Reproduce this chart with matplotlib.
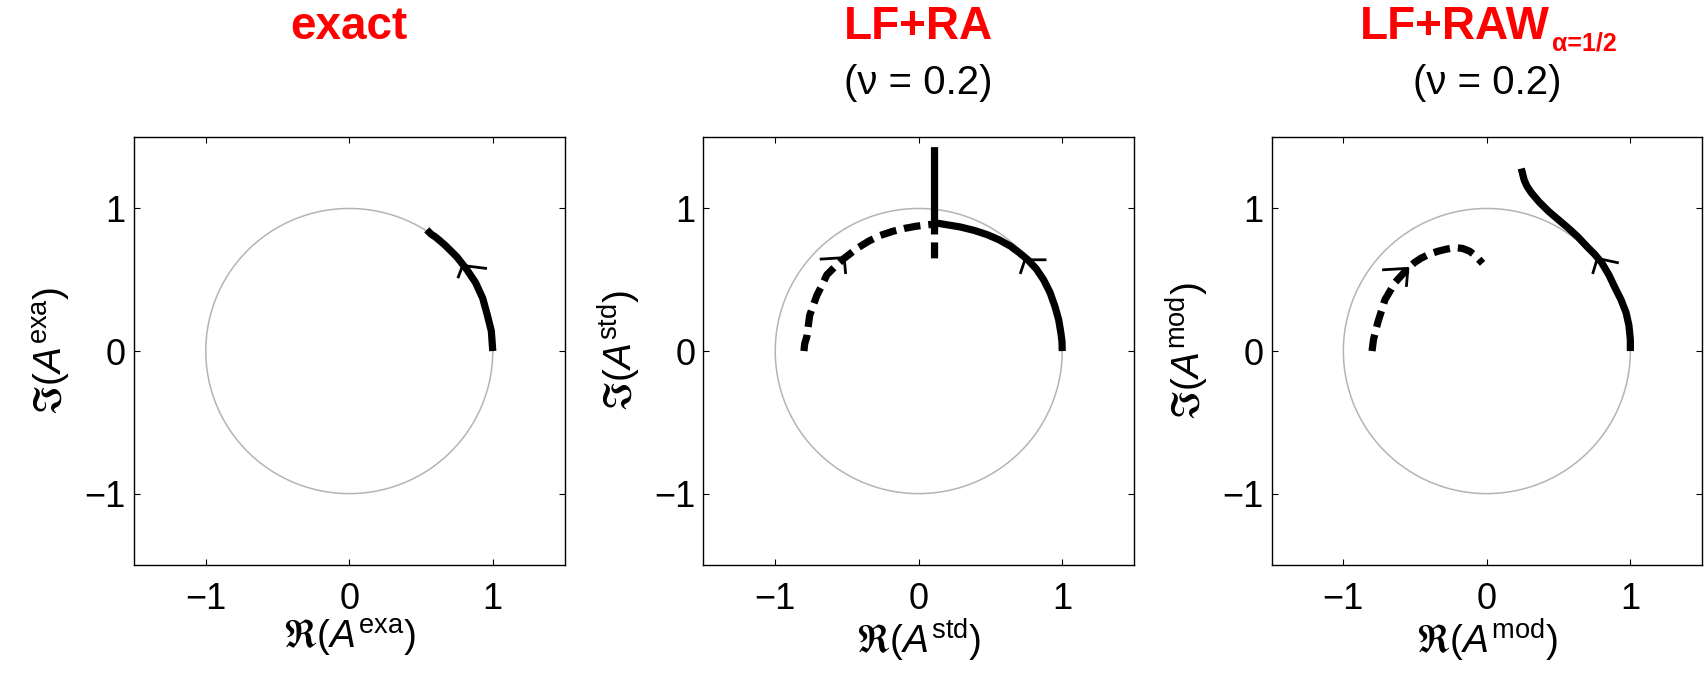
import numpy as np
import matplotlib
matplotlib.use("Agg")
import matplotlib.pyplot as plt

plt.rcParams['font.family'] = ['Liberation Sans', 'DejaVu Sans']
plt.rcParams['mathtext.fontset'] = 'custom'
plt.rcParams['mathtext.rm'] = 'Liberation Sans'
plt.rcParams['mathtext.it'] = 'Liberation Sans:italic'
plt.rcParams['mathtext.bf'] = 'Liberation Sans:bold'
plt.rcParams['mathtext.fallback'] = 'stix'

# exact solution (solid)
exa_re = [1.00, 0.995, 0.99, 0.975, 0.96, 0.93, 0.905, 0.88, 0.85, 0.82, 0.785, 0.75, 0.71, 0.67, 0.63, 0.60, 0.57, 0.54]
exa_im = [0.00, 0.07, 0.14, 0.20, 0.26, 0.37, 0.425, 0.48, 0.525, 0.57, 0.615, 0.66, 0.70, 0.74, 0.775, 0.80, 0.82, 0.85]
exa_arrow = [(0.95, 0.58), (0.79, 0.60), (0.76, 0.52)]

# LF+RA, physical mode (solid) and computational mode (dashed)
std_re = [1.00, 0.998, 0.99, 0.975, 0.95, 0.915, 0.87, 0.82, 0.76, 0.70, 0.64, 0.56, 0.48, 0.39, 0.29, 0.20, 0.11, 0.11]
std_im = [0.00, 0.07, 0.13, 0.22, 0.31, 0.41, 0.50, 0.575, 0.64, 0.69, 0.735, 0.78, 0.815, 0.845, 0.87, 0.885, 0.90, 1.43]
std_arrow = [(0.88, 0.64), (0.74, 0.64), (0.71, 0.55)]
stdc_re = [-0.80, -0.795, -0.78, -0.76, -0.735, -0.71, -0.675, -0.64, -0.58, -0.52, -0.43, -0.35, -0.27, -0.18, -0.10, -0.02, 0.06, 0.11, 0.11]
stdc_im = [0.00, 0.05, 0.10, 0.25, 0.32, 0.39, 0.46, 0.535, 0.595, 0.65, 0.72, 0.77, 0.81, 0.84, 0.86, 0.875, 0.885, 0.89, 0.65]
stdc_arrow = [(-0.68, 0.645), (-0.52, 0.655), (-0.51, 0.55)]

# LF+RAW alpha=1/2
mod_re = [1.00, 1.00, 0.99, 0.97, 0.935, 0.89, 0.85, 0.80, 0.75, 0.70, 0.635, 0.57, 0.50, 0.43, 0.365, 0.31, 0.28, 0.26, 0.24]
mod_im = [0.00, 0.08, 0.18, 0.27, 0.36, 0.45, 0.535, 0.62, 0.68, 0.73, 0.80, 0.86, 0.92, 0.98, 1.045, 1.11, 1.155, 1.20, 1.28]
mod_arrow = [(0.91, 0.62), (0.77, 0.65), (0.74, 0.55)]
modc_re = [-0.80, -0.795, -0.79, -0.76, -0.735, -0.71, -0.675, -0.64, -0.595, -0.55, -0.505, -0.46, -0.40, -0.34, -0.28, -0.22, -0.17, -0.12, -0.075, -0.03]
modc_im = [0.00, 0.04, 0.08, 0.20, 0.28, 0.36, 0.42, 0.48, 0.53, 0.58, 0.62, 0.65, 0.68, 0.70, 0.715, 0.725, 0.72, 0.70, 0.665, 0.615]
modc_arrow = [(-0.72, 0.57), (-0.55, 0.58), (-0.56, 0.46)]

ticks = [-1, 0, 1]
tags = ['exa', 'std', 'mod']

fig = plt.figure(figsize=(17.05, 6.79), dpi=100)
lefts = [0.0786, 0.4126, 0.7458]
axes = [fig.add_axes([l, 0.168, 0.2525, 0.630]) for l in lefts]

theta = np.linspace(0, 2 * np.pi, 400)
curves = [
    [(exa_re, exa_im, exa_arrow, '-')],
    [(std_re, std_im, std_arrow, '-'), (stdc_re, stdc_im, stdc_arrow, '--')],
    [(mod_re, mod_im, mod_arrow, '-'), (modc_re, modc_im, modc_arrow, '--')],
]

for ax, tag, crv in zip(axes, tags, curves):
    ax.plot(np.cos(theta), np.sin(theta), color='#b4b4b4', lw=1.1)
    for re, im, arr, ls in crv:
        if ls == '-':
            ax.plot(re, im, color='k', lw=5.2, solid_capstyle='butt', solid_joinstyle='round')
        else:
            ax.plot(re, im, color='k', lw=5.2, dashes=(2.3, 1.1), dash_capstyle='butt',
                    dash_joinstyle='round')
        ax.plot([p[0] for p in arr], [p[1] for p in arr], color='k', lw=2.0)
    ax.set_xlim(-1.5, 1.5)
    ax.set_ylim(-1.5, 1.5)
    ax.set_xticks(ticks)
    ax.set_yticks(ticks)
    ax.set_xticklabels(['\u22121', '0', '1'])
    ax.set_yticklabels(['\u22121', '0', '1'])
    ax.tick_params(direction='in', length=4, width=0.8, top=True, right=True, labelsize=26)
    ax.tick_params(axis='x', pad=12)
    ax.tick_params(axis='y', pad=6)
    for s in ax.spines.values():
        s.set_linewidth(1.0)
    ax.set_xlabel(r'$\Re(A^{\mathrm{%s}})$' % tag, fontsize=28, labelpad=0)
    ax.set_ylabel(r'$\Im(A^{\mathrm{%s}})$' % tag, fontsize=28, labelpad=8)

red = '#ff0000'
axes[0].text(0.5, 1.257, 'exact', transform=axes[0].transAxes, ha='center', va='center',
             fontsize=33, fontweight='bold', color=red)
axes[1].text(0.5, 1.257, 'LF+RA', transform=axes[1].transAxes, ha='center', va='center',
             fontsize=33, fontweight='bold', color=red)
axes[1].text(0.5, 1.126, '(\u03bd = 0.2)', transform=axes[1].transAxes, ha='center', va='center',
             fontsize=29)

# title with subscript, built from two texts
renderer = fig.canvas.get_renderer()
t_main = axes[2].text(0.0, 1.257, 'LF+RAW', transform=axes[2].transAxes, ha='left', va='center',
                      fontsize=33, fontweight='bold', color=red)
t_sub = axes[2].text(0.0, 1.22, '\u03b1=1/2', transform=axes[2].transAxes, ha='left', va='center',
                     fontsize=18, fontweight='bold', color=red)
w_main = t_main.get_window_extent(renderer).width
w_sub = t_sub.get_window_extent(renderer).width
ax_w = axes[2].get_window_extent(renderer).width
x0 = 0.5 - (w_main + w_sub) / 2 / ax_w
t_main.set_x(x0)
t_sub.set_x(x0 + w_main / ax_w + 0.005)
axes[2].text(0.5, 1.126, '(\u03bd = 0.2)', transform=axes[2].transAxes, ha='center', va='center',
             fontsize=29)

fig.savefig('out.png', dpi=100)
